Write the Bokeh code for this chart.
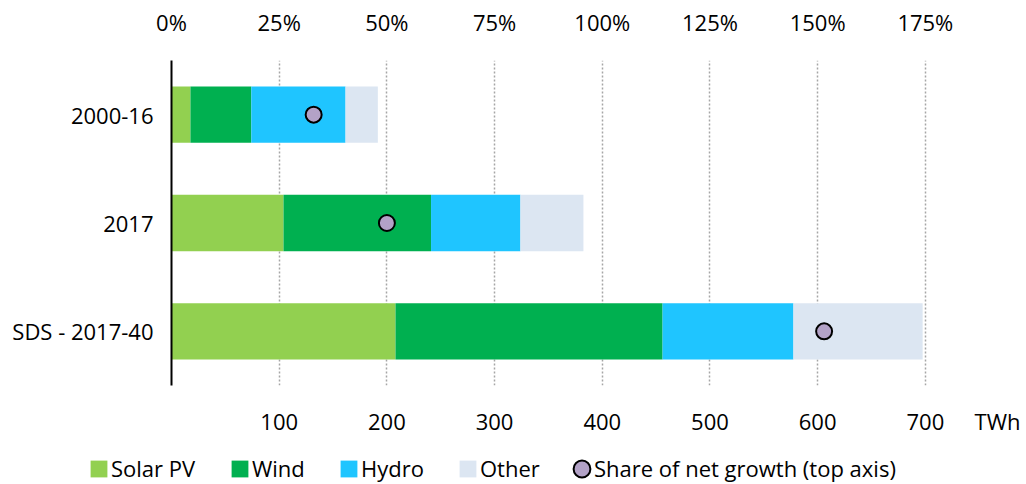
from bokeh.plotting import figure
from bokeh.models import Range1d, FactorRange, LinearAxis, FixedTicker, Legend, LegendItem, ColumnDataSource
from bokeh.layouts import column, row
from bokeh.embed import file_html
from bokeh.resources import INLINE

categories = ["2000-16", "2017", "SDS - 2017-40"]
solar = [17.6, 104, 208]
wind = [56.5, 137, 248]
hydro = [87.5, 83, 121.5]
other = [30, 58.5, 120]
share = [33, 50, 151.5]
twh_ticks = [100, 200, 300, 400, 500, 600, 700]
pct_ticks = [0, 25, 50, 75, 100, 125, 150, 175]
series_names = ["Solar PV", "Wind", "Hydro", "Other"]
share_name = "Share of net growth (top axis)"
colors = ["#92D050", "#00B050", "#1FC5FF", "#DCE6F2"]
dot_color = "#B3A2C7"

FONT = "Open Sans"
FS = "22px"

source = ColumnDataSource(dict(cat=categories, solar=solar, wind=wind, hydro=hydro,
                               other=other, share=share))

p = figure(width=1020, height=438, output_backend="svg", toolbar_location=None,
           y_range=FactorRange(*reversed(categories), range_padding=0),
           x_range=Range1d(0, 780),
           min_border_left=171, min_border_right=9, min_border_top=60, min_border_bottom=53)
p.extra_x_ranges = {"pct": Range1d(0, 195)}
p.outline_line_color = None

rs = p.hbar_stack(["solar", "wind", "hydro", "other"], y="cat", height=0.52,
                  color=colors, line_color=None, source=source)
dot = p.ellipse(x="share", y="cat", width=16, height=16, width_units="screen",
                height_units="screen", x_range_name="pct", fill_color=dot_color,
                line_color="black", line_width=2, source=source)

# bottom axis (TWh)
xa = p.xaxis[0]
xa.ticker = FixedTicker(ticks=twh_ticks + [770])
xa.major_label_overrides = {770: "TWh"}
xa.axis_line_color = None
xa.major_tick_line_color = None
xa.minor_tick_line_color = None
xa.major_label_standoff = 14
xa.major_label_text_font = FONT
xa.major_label_text_font_size = FS
xa.major_label_text_color = "black"

# top axis (share)
ta = LinearAxis(x_range_name="pct", ticker=FixedTicker(ticks=pct_ticks))
ta.major_label_overrides = {v: f"{v}%" for v in pct_ticks}
ta.axis_line_color = None
ta.major_tick_line_color = None
ta.minor_tick_line_color = None
ta.major_label_standoff = 18
ta.major_label_text_font = FONT
ta.major_label_text_font_size = FS
ta.major_label_text_color = "black"
p.add_layout(ta, "above")

ya = p.yaxis[0]
ya.axis_line_color = "black"
ya.axis_line_width = 2
ya.major_tick_line_color = None
ya.minor_tick_line_color = None
ya.major_label_standoff = 12
ya.major_label_text_font = FONT
ya.major_label_text_font_size = FS
ya.major_label_text_color = "black"

p.xgrid.ticker = FixedTicker(ticks=twh_ticks)
p.xgrid.grid_line_color = "#A6A6A6"
p.xgrid.grid_line_dash = "2 2"
p.xgrid.grid_line_width = 1.5
p.ygrid.grid_line_color = None

# legend strip (key renderers are hidden or outside the visible range)
lg = figure(width=1020, height=46, output_backend="svg", toolbar_location=None,
            x_range=Range1d(0, 1), y_range=Range1d(0, 1),
            x_axis_location=None, y_axis_location=None,
            min_border_left=0, min_border_right=0, min_border_top=0, min_border_bottom=0)
lg.outline_line_color = None
lg.xgrid.visible = False
lg.ygrid.visible = False
leg_rs = [lg.hbar(y="share", right=f, height=1, color=c, line_color=None, source=source,
                  visible=False)
          for f, c in zip(["solar", "wind", "hydro", "other"], colors)]
leg_dot = lg.ellipse(x="solar", y="share", width=16, height=16, width_units="screen",
                     height_units="screen", fill_color=dot_color, line_color="black",
                     line_width=2, source=source)

box_lefts = [88, 229, 338, 457, 571]
for name, r, x0 in zip(series_names + [share_name], leg_rs + [leg_dot], box_lefts):
    lgd = Legend(items=[LegendItem(label=name, renderers=[r], index=0)], location=(x0, 1),
                 padding=0, margin=0, glyph_width=21, glyph_height=21, label_height=21,
                 label_standoff=2, label_text_font=FONT, label_text_font_size=FS,
                 label_text_color="black", border_line_alpha=0, background_fill_alpha=0,
                 inactive_fill_alpha=0)
    lg.add_layout(lgd, "center")

layout = column(p, row(lg), spacing=0)
open("out.html", "w").write(file_html(layout, INLINE))
